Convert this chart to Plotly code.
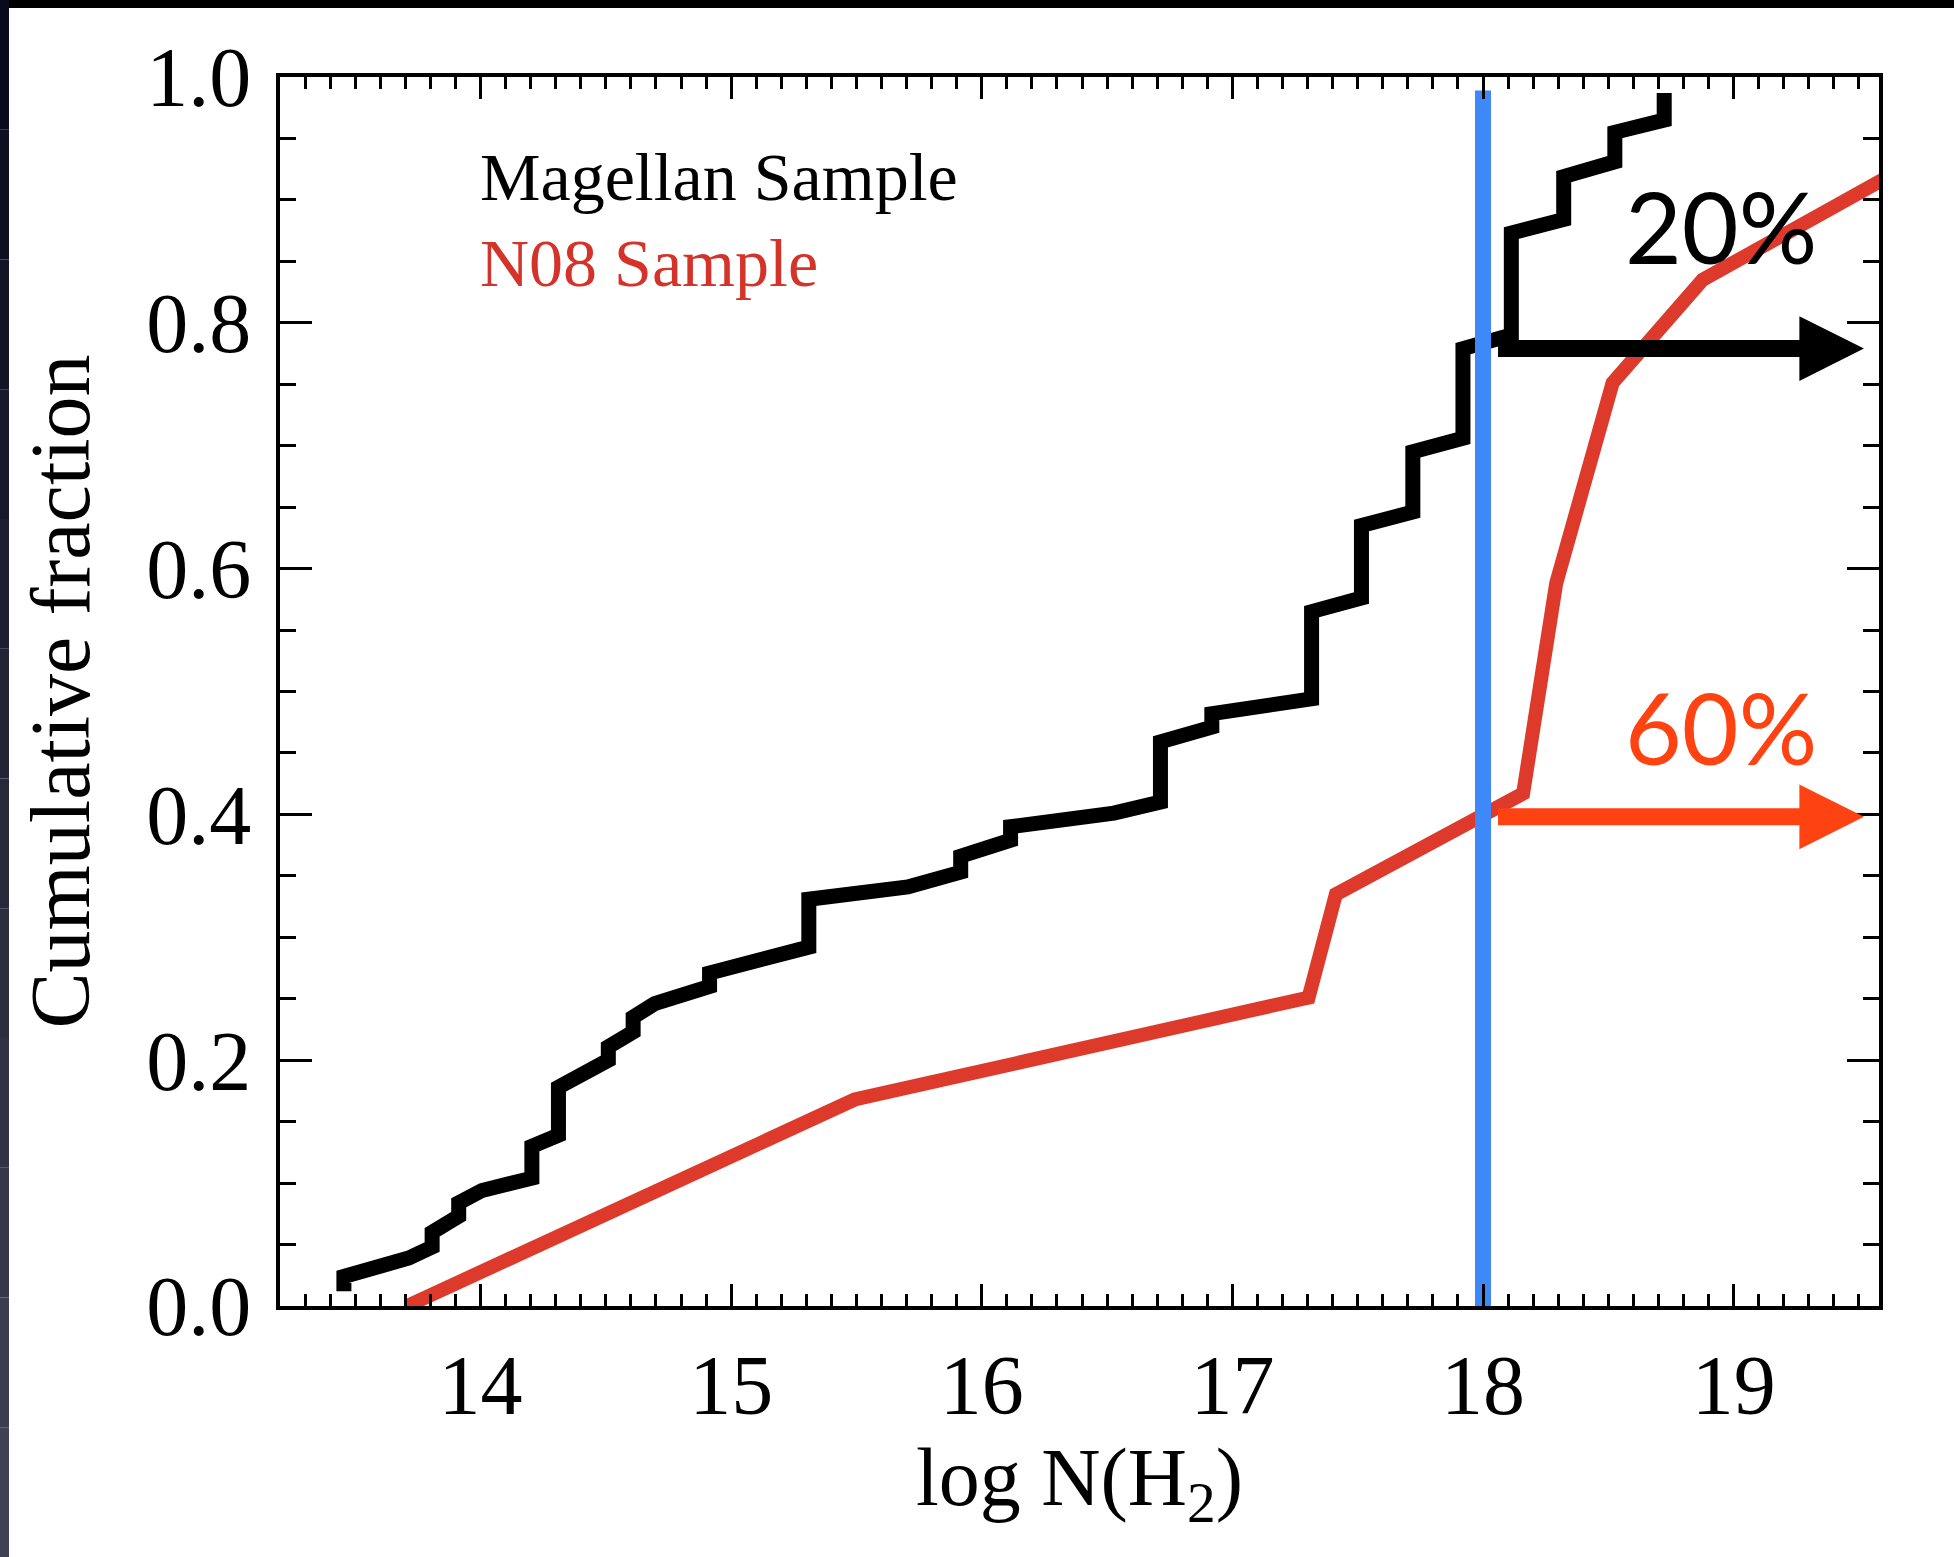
import plotly.graph_objects as go

# ---------------- data ----------------
magellan_x = [13.455, 13.455, 13.714, 13.807, 13.807, 13.913, 13.913, 14.006, 14.205, 14.205,
              14.311, 14.311, 14.510, 14.510, 14.609, 14.609, 14.695, 14.914, 14.914, 15.310,
              15.310, 15.705, 15.916, 15.916, 16.115, 16.115, 16.527, 16.713, 16.713, 16.918,
              16.918, 17.316, 17.316, 17.515, 17.515, 17.720, 17.720, 17.920, 17.920, 18.113,
              18.113, 18.322, 18.322, 18.526, 18.526, 18.723, 18.723]
magellan_y = [0.012, 0.024, 0.039, 0.048, 0.060, 0.073, 0.084, 0.094, 0.104, 0.130,
              0.139, 0.178, 0.200, 0.211, 0.223, 0.235, 0.246, 0.260, 0.271, 0.292,
              0.331, 0.341, 0.353, 0.366, 0.379, 0.390, 0.401, 0.410, 0.459, 0.471,
              0.482, 0.494, 0.565, 0.576, 0.635, 0.646, 0.695, 0.706, 0.779, 0.790,
              0.873, 0.884, 0.919, 0.931, 0.955, 0.965, 0.987]

n08_x = [13.707, 15.493, 17.304, 17.413, 18.160, 18.292, 18.517, 18.876, 19.600]
n08_y = [0.000, 0.168, 0.251, 0.335, 0.417, 0.588, 0.751, 0.835, 0.917]

cut_x = 18.0
cut_y = [0.0, 0.989]

arrow_start_x = 18.054
arrow_tip_x = 19.52
magellan_arrow_y = 0.779
n08_arrow_y = 0.398

magellan_pct = "20%"
n08_pct = "60%"
magellan_pct_pos = (18.951, 0.879)
n08_pct_pos = (18.951, 0.471)

legend_names = ["Magellan Sample", "N08 Sample"]
legend_pos = [(13.99, 0.919), (13.99, 0.849)]

x_ticks = [14, 15, 16, 17, 18, 19]
y_ticks = [0.0, 0.2, 0.4, 0.6, 0.8, 1.0]
y_tick_labels = ["0.0", "0.2", "0.4", "0.6", "0.8", "1.0"]
x_range = [13.2, 19.58]
y_range = [0.0, 1.0]

# ---------------- style ----------------
W, H = 1954, 1557
L, R, T, B = 280, 75, 77, 251
PW, PH = W - L - R, H - T - B
SERIF = "Liberation Serif, Times New Roman, serif"
SANS = "Lato, Open Sans, sans-serif"
BLACK = "#000000"
RED_LINE = "#DE3A2C"
RED_TEXT = "#D43329"
ORANGE = "#FF4212"
BLUE = "#3F88FA"

fig = go.Figure()

fig.add_trace(go.Scatter(x=magellan_x, y=magellan_y, mode="lines",
                         line=dict(color=BLACK, width=15), showlegend=False))
fig.add_trace(go.Scatter(x=n08_x, y=n08_y, mode="lines",
                         line=dict(color=RED_LINE, width=14), showlegend=False))
fig.add_trace(go.Scatter(x=[cut_x, cut_x], y=cut_y, mode="lines",
                         line=dict(color=BLUE, width=16), showlegend=False))

head_w = 17
head_size = 0.76

annotations = []
for yv, col in [(magellan_arrow_y, BLACK), (n08_arrow_y, ORANGE)]:
    annotations.append(dict(x=arrow_tip_x, y=yv, ax=arrow_start_x, ay=yv,
                            xref="x", yref="y", axref="x", ayref="y", text="",
                            showarrow=True, arrowhead=2, arrowsize=head_size,
                            arrowwidth=head_w, arrowcolor=col, standoff=0))

annotations.append(dict(x=magellan_pct_pos[0], y=magellan_pct_pos[1], xref="x", yref="y",
                        text=magellan_pct, showarrow=False,
                        font=dict(family=SANS, size=98, color=BLACK)))
annotations.append(dict(x=n08_pct_pos[0], y=n08_pct_pos[1], xref="x", yref="y",
                        text=n08_pct, showarrow=False,
                        font=dict(family=SANS, size=98, color=ORANGE)))
for name, pos, col in zip(legend_names, legend_pos, [BLACK, RED_TEXT]):
    annotations.append(dict(x=pos[0], y=pos[1], xref="x", yref="y", text=name,
                            showarrow=False, xanchor="left",
                            font=dict(family=SERIF, size=68, color=col)))

# dark frame on the top and left edges of the picture
def px2paper_x(px):
    return (px - L) / PW

def px2paper_y(py):
    return (H - B - py) / PH

shapes = [dict(type="rect", xref="paper", yref="paper", layer="above",
               x0=px2paper_x(0), x1=px2paper_x(W), y0=px2paper_y(8), y1=px2paper_y(0),
               line=dict(width=0), fillcolor="#000000")]
nseg = 12
for i in range(nseg):
    t0 = i / nseg
    c = int(10 + 60 * t0)
    shapes.append(dict(type="rect", xref="paper", yref="paper", layer="above",
                       x0=px2paper_x(0), x1=px2paper_x(9),
                       y0=px2paper_y(H * (i + 1) / nseg), y1=px2paper_y(H * i / nseg),
                       line=dict(width=0),
                       fillcolor="rgb(%d,%d,%d)" % (c, c, c + 18)))

axis_common = dict(showline=True, linecolor=BLACK, linewidth=4, mirror="allticks",
                   ticks="inside", tickcolor=BLACK, tickwidth=3, showgrid=False,
                   zeroline=False, automargin=False,
                   tickfont=dict(family=SERIF, size=84, color=BLACK))

fig.update_layout(
    width=W, height=H,
    margin=dict(l=L, r=R, t=T, b=B),
    paper_bgcolor="white", plot_bgcolor="white",
    showlegend=False,
    annotations=annotations,
    shapes=shapes,
    xaxis=dict(range=x_range, tickvals=x_ticks, ticklen=22, ticklabelstandoff=3,
               minor=dict(dtick=0.1, tick0=0, ticklen=12, tickwidth=3, ticks="inside",
                          tickcolor=BLACK),
               title=dict(text="log N(H<sub>2</sub>)", standoff=12,
                          font=dict(family=SERIF, size=82, color=BLACK)),
               **axis_common),
    yaxis=dict(range=y_range, tickvals=y_ticks, ticktext=y_tick_labels, ticklen=32,
               ticklabelstandoff=8,
               minor=dict(dtick=0.05, tick0=0, ticklen=16, tickwidth=3, ticks="inside",
                          tickcolor=BLACK),
               title=dict(text="Cumulative fraction", standoff=30,
                          font=dict(family=SERIF, size=84, color=BLACK)),
               **axis_common),
)

fig.write_html("out.html")
